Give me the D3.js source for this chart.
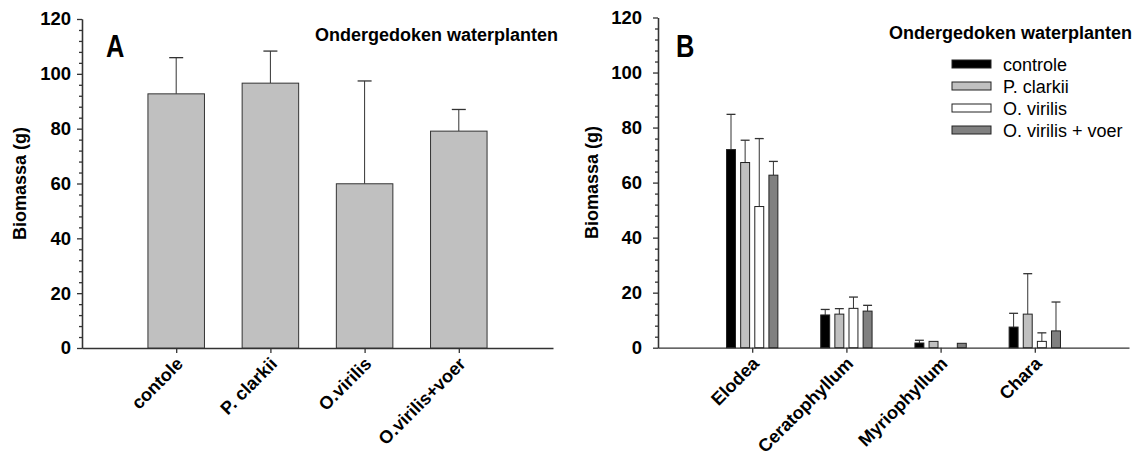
<!DOCTYPE html>
<html>
<head>
<meta charset="utf-8">
<script src="https://cdn.jsdelivr.net/npm/d3@7"></script>
<style>
  body { margin: 0; background: #fff; }
  svg { display: block; font-family: "Liberation Sans", Arial, sans-serif; }
  .axis path, .axis line { stroke: #333; stroke-width: 1.3px; }
  .axis text { font-size: 18.5px; font-weight: bold; fill: #000; }
</style>
</head>
<body>
<div id="chart"></div>
<script>
// panel A: totals per treatment
const groupsA = ["contole", "P. clarkii", "O.virilis", "O.virilis+voer"];
const meanA = [92.7, 96.6, 59.9, 79.1];
const errA = [13.2, 11.7, 37.5, 7.9];

// panel B: per plant species
const plantsB = ["Elodea", "Ceratophyllum", "Myriophyllum", "Chara"];
const seriesB = ["controle", "P. clarkii", "O. virilis", "O. virilis + voer"];
const controleB = [72.0, 11.9, 1.7, 7.5];
const controleErrB = [12.8, 2.0, 1.0, 5.0];
const clarkiiB = [67.3, 12.2, 2.3, 12.2];
const clarkiiErrB = [8.1, 2.0, 0, 14.7];
const virilisB = [51.3, 14.3, 0, 2.3];
const virilisErrB = [24.7, 4.1, 0, 3.1];
const voerB = [62.7, 13.3, 1.6, 6.1];
const voerErrB = [5.0, 2.1, 0, 10.5];

const yTicks = d3.range(0, 121, 20);
const yMinor = d3.range(0, 121, 4).filter(v => v % 20 !== 0);

const width = 1136, height = 452;
const svg = d3.select("#chart").append("svg")
    .attr("width", width)
    .attr("height", height);

function drawAxes(cfg) {
  const g = svg.append("g");
  const x = d3.scaleLinear().domain([0, cfg.labels.length + 1]).range([cfg.left, cfg.right]);
  const y = d3.scaleLinear().domain([0, 120]).range([cfg.bottom, cfg.top]);

  // minor y ticks first, then major
  g.append("g").attr("class", "axis")
      .attr("transform", "translate(" + cfg.left + ",0)")
      .call(d3.axisLeft(y).tickValues(yMinor).tickSize(3).tickSizeOuter(0).tickFormat(""));
  g.append("g").attr("class", "axis")
      .attr("transform", "translate(" + cfg.left + ",0)")
      .call(d3.axisLeft(y).tickValues(yTicks).tickSize(5).tickSizeOuter(0).tickPadding(cfg.tickPad));

  g.append("g").attr("class", "axis")
      .attr("transform", "translate(0," + cfg.bottom + ")")
      .call(d3.axisBottom(x).tickValues(d3.range(1, cfg.labels.length + 1)).tickSize(5).tickSizeOuter(0).tickFormat(""));

  // rotated category labels
  g.selectAll("text.cat")
      .data(cfg.labels)
      .enter()
      .append("text")
      .attr("class", "cat")
      .attr("text-anchor", "end")
      .attr("font-size", 18)
      .attr("font-weight", "bold")
      .attr("transform", (d, i) => "translate(" + (x(i + 1) + 8) + "," + (cfg.bottom + 17) + ") rotate(-45)")
      .text(d => d);

  g.append("text")
      .attr("transform", "translate(" + cfg.titleX + "," + ((cfg.top + cfg.bottom) / 2) + ") rotate(-90)")
      .attr("text-anchor", "middle")
      .attr("font-size", 18)
      .attr("font-weight", "bold")
      .text("Biomassa (g)");

  g.append("text")
      .attr("transform", "translate(" + cfg.letterX + ",57) scale(0.82,1)")
      .attr("font-size", 31)
      .attr("font-weight", "bold")
      .text(cfg.letter);

  g.append("text")
      .attr("x", cfg.headX)
      .attr("y", cfg.headY)
      .attr("text-anchor", "end")
      .attr("font-size", 18)
      .attr("font-weight", "bold")
      .text("Ondergedoken waterplanten");

  return {g: g, x: x, y: y};
}

// ---- panel A
const A = drawAxes({left: 82, right: 553, top: 19, bottom: 348, tickPad: 6, labels: groupsA,
                    titleX: 26, letterX: 106, letter: "A", headX: 558, headY: 41});
const bwA = 0.6;
A.g.selectAll("line.errA")
    .data(meanA)
    .enter()
    .append("line")
    .attr("x1", (d, i) => A.x(i + 1))
    .attr("x2", (d, i) => A.x(i + 1))
    .attr("y1", d => A.y(d))
    .attr("y2", (d, i) => A.y(d + errA[i]))
    .attr("stroke", "#333");
A.g.selectAll("line.capA")
    .data(meanA)
    .enter()
    .append("line")
    .attr("x1", (d, i) => A.x(i + 1) - 7)
    .attr("x2", (d, i) => A.x(i + 1) + 7)
    .attr("y1", (d, i) => A.y(d + errA[i]))
    .attr("y2", (d, i) => A.y(d + errA[i]))
    .attr("stroke", "#333")
    .attr("stroke-width", 1.3);
A.g.selectAll("rect.barA")
    .data(meanA)
    .enter()
    .append("rect")
    .attr("x", (d, i) => A.x(i + 1 - bwA / 2))
    .attr("width", A.x(bwA) - A.x(0))
    .attr("y", d => A.y(d))
    .attr("height", d => A.y(0) - A.y(d))
    .attr("fill", "#c0c0c0")
    .attr("stroke", "#333")
    .attr("stroke-width", 1);

// ---- panel B
const B = drawAxes({left: 658, right: 1129, top: 17.5, bottom: 347.7, tickPad: 11, labels: plantsB,
                    titleX: 598, letterX: 676, letter: "B", headX: 1132, headY: 39});
const valsB = [controleB, clarkiiB, virilisB, voerB];
const errsB = [controleErrB, clarkiiErrB, virilisErrB, voerErrB];
const fillsB = ["#000000", "#c0c0c0", "#ffffff", "#808080"];
const pitch = 0.15, bwB = 0.095;

valsB.forEach((vals, s) => {
  const off = (s - 1.5) * pitch;
  const pts = vals.map((v, i) => ({v: v, e: errsB[s][i], i: i})).filter(p => p.v > 0);
  B.g.selectAll("line.err" + s)
      .data(pts.filter(p => p.e > 0))
      .enter()
      .append("line")
      .attr("x1", p => B.x(p.i + 1 + off))
      .attr("x2", p => B.x(p.i + 1 + off))
      .attr("y1", p => B.y(p.v))
      .attr("y2", p => B.y(p.v + p.e))
      .attr("stroke", "#333");
  B.g.selectAll("line.cap" + s)
      .data(pts.filter(p => p.e > 0))
      .enter()
      .append("line")
      .attr("x1", p => B.x(p.i + 1 + off - bwB / 2))
      .attr("x2", p => B.x(p.i + 1 + off + bwB / 2))
      .attr("y1", p => B.y(p.v + p.e))
      .attr("y2", p => B.y(p.v + p.e))
      .attr("stroke", "#333")
      .attr("stroke-width", 1.3);
  B.g.selectAll("rect.bar" + s)
      .data(pts)
      .enter()
      .append("rect")
      .attr("x", p => B.x(p.i + 1 + off - bwB / 2))
      .attr("width", B.x(bwB) - B.x(0))
      .attr("y", p => B.y(p.v))
      .attr("height", p => B.y(0) - B.y(p.v))
      .attr("fill", fillsB[s])
      .attr("stroke", "#222")
      .attr("stroke-width", 1);
});

// legend
const legend = svg.append("g").attr("transform", "translate(952,64)");
const row = legend.selectAll("g")
    .data(seriesB)
    .enter()
    .append("g")
    .attr("transform", (d, i) => "translate(0," + (i * 22) + ")");
row.append("rect")
    .attr("x", 0).attr("y", -4)
    .attr("width", 39).attr("height", 8)
    .attr("fill", (d, i) => fillsB[i])
    .attr("stroke", "#222");
row.append("text")
    .attr("x", 51).attr("y", 6.5)
    .attr("font-size", 18)
    .text(d => d);
</script>
</body>
</html>
